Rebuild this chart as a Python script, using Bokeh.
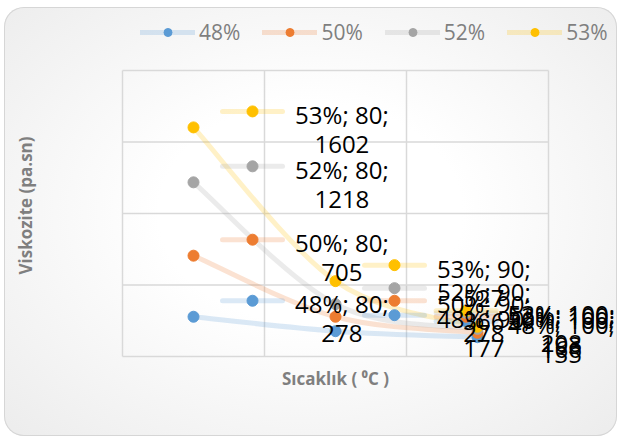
import numpy as np
from bokeh.plotting import figure
from bokeh.models import (ColumnDataSource, LabelSet, Label, Legend, LegendItem,
                          Range1d)
from bokeh.core.properties import value
from bokeh.embed import file_html
from bokeh.resources import INLINE

# ---------------- data ----------------
categories = ["80", "90", "100"]
series_names = ["48%", "50%", "52%", "53%"]
s48 = [278, 177, 135]
s50 = [705, 278, 166]
s52 = [1218, 366, 193]
s53 = [1602, 527, 208]
y_ticks = [0, 500, 1000, 1500, 2000]
x_title = "Sıcaklık ( \u2070C )"
y_title = "Viskozite (pa.sn)"

series_values = [s48, s50, s52, s53]
colors = ["#5B9BD5", "#ED7D31", "#A5A5A5", "#FFC000"]

# ---------------- layout ----------------
W, H = 613, 429                # canvas (placed at 4,7 on the page)
ML, MR, MT, MB = 118, 69, 63, 80   # plot-area margins inside the canvas
FW = W - ML - MR
FH = H - MT - MB
FONT = "Open Sans"
LINE_ALPHA = 0.22
LINE_W = 5
MSIZE = 11
GRID_COLOR = "#d9d9d9"

n = len(categories)
xs = np.arange(n) + 0.5
ux = n / FW                                   # data units per px (x)
uy = (y_ticks[-1] - y_ticks[0]) / FH          # data units per px (y)

p = figure(width=W, height=H,
           x_range=Range1d(-ML * ux, n + MR * ux),
           y_range=Range1d(y_ticks[0] - MB * uy, y_ticks[-1] + MT * uy),
           x_axis_type=None, y_axis_type=None,
           output_backend="svg", toolbar_location=None)
p.min_border = 0
p.styles = {
    "margin-left": "4px",
    "margin-top": "7px",
    "border-radius": "20px",
    "box-shadow": "inset 0 0 0 1px #d6d6d6",
    "background-image": "radial-gradient(ellipse at 50% 48%, #ffffff 35%, #ececec 100%)",
}
p.border_fill_alpha = 0
p.background_fill_alpha = 0
p.outline_line_color = None
p.xgrid.visible = False
p.ygrid.visible = False

# plot-area grid: category boundaries and value ticks
x_bounds = list(range(n + 1))
p.segment(x0=x_bounds, x1=x_bounds, y0=[y_ticks[0]] * len(x_bounds),
          y1=[y_ticks[-1]] * len(x_bounds), line_color=GRID_COLOR, line_width=1.5)
p.segment(x0=[0] * len(y_ticks), x1=[n] * len(y_ticks), y0=y_ticks, y1=y_ticks,
          line_color=GRID_COLOR, line_width=1.5)

# axis titles
p.add_layout(Label(x=n / 2, y=y_ticks[0], text=x_title, y_offset=-22,
                   text_align="center", text_baseline="middle",
                   text_font=FONT, text_font_style="bold",
                   text_font_size="17px", text_color="#7f7f7f"))
p.add_layout(Label(x=0, y=(y_ticks[0] + y_ticks[-1]) / 2, text=y_title,
                   x_offset=-97, y_offset=8, angle=np.pi / 2,
                   text_align="center", text_baseline="middle",
                   text_font=FONT, text_font_style="bold",
                   text_font_size="17px", text_color="#7f7f7f"))

# ---------------- series ----------------
def smooth_controls(xv, yv):
    P = np.column_stack([xv, yv]).astype(float)
    m = len(P)
    segs = []
    for i in range(m - 1):
        pm = P[i - 1] if i > 0 else P[i]
        p0, p1 = P[i], P[i + 1]
        p2 = P[i + 2] if i + 2 < m else P[i + 1]
        c0 = p0 + (p1 - pm) / 6.0
        c1 = p1 - (p2 - p0) / 6.0
        segs.append((p0, p1, c0, c1))
    return dict(x0=[s[0][0] for s in segs], y0=[s[0][1] for s in segs],
                x1=[s[1][0] for s in segs], y1=[s[1][1] for s in segs],
                cx0=[s[2][0] for s in segs], cy0=[s[2][1] for s in segs],
                cx1=[s[3][0] for s in segs], cy1=[s[3][1] for s in segs])

curve_renderers = []
for name, vals, col in zip(series_names, series_values, colors):
    r = p.bezier(source=ColumnDataSource(smooth_controls(xs, vals)),
                 x0="x0", y0="y0", x1="x1", y1="y1",
                 cx0="cx0", cy0="cy0", cx1="cx1", cy1="cy1",
                 line_color=col, line_alpha=LINE_ALPHA, line_width=LINE_W,
                 line_cap="round")
    curve_renderers.append(r)

legend_items = []
for name, vals, col, cr in zip(series_names, series_values, colors, curve_renderers):
    sc = p.scatter(xs, vals, size=MSIZE, fill_color=col, line_color=col)
    legend_items.append(LegendItem(label=name, renderers=[cr, sc]))

# ---------------- data labels (with legend keys) ----------------
RIGHT_LIMIT = 491          # px from plot-area left where label blocks must end
KEY_DX, KEY_DY = 59, 16    # key marker offset from point (px)
TEXT_DX = 43               # text start after key marker (px)
CHAR_W = 11.6              # approx px per char of first label line

lab = dict(x=[], y=[], line1=[], val=[], xo=[])
keys = dict(x=[], y=[], xa=[], xb=[], c=[])
for name, vals, col in zip(series_names, series_values, colors):
    for cat, xv, yv in zip(categories, xs, vals):
        line1 = f"{name}; {cat};"
        w1 = CHAR_W * len(line1)
        anchor_px = min(xv / ux + KEY_DX, RIGHT_LIMIT - TEXT_DX - w1)
        ax_ = anchor_px * ux
        ky = yv + KEY_DY * uy
        keys["x"].append(ax_); keys["y"].append(ky)
        keys["xa"].append(ax_ - 30 * ux); keys["xb"].append(ax_ + 30 * ux)
        keys["c"].append(col)
        lab["x"].append(ax_); lab["y"].append(ky)
        lab["line1"].append(line1)
        lab["val"].append(str(yv))
        lab["xo"].append(TEXT_DX + w1 / 2)

ksrc = ColumnDataSource(keys)
p.segment(x0="xa", x1="xb", y0="y", y1="y", source=ksrc, line_color="c",
          line_alpha=LINE_ALPHA, line_width=LINE_W, line_cap="round")
p.scatter(x="x", y="y", source=ksrc, size=MSIZE, fill_color="c", line_color="c")

lsrc = ColumnDataSource(lab)
for field, yoff in (("line1", -3), ("val", -33)):
    p.add_layout(LabelSet(x="x", y="y", text=field, source=lsrc,
                          x_offset="xo", y_offset=yoff, text_align="center",
                          text_baseline="middle", text_font=value(FONT),
                          text_font_size=value("24px"), text_color="#000000"))

legend = Legend(items=legend_items, orientation="horizontal",
                location=(136, 390), glyph_width=55, glyph_height=20,
                label_text_font=FONT, label_text_font_size="21px",
                label_text_color="#7f7f7f", label_standoff=4, spacing=22,
                padding=0, margin=0, border_line_color=None,
                background_fill_alpha=0)
p.add_layout(legend)

open("out.html", "w").write(file_html(p, INLINE))
